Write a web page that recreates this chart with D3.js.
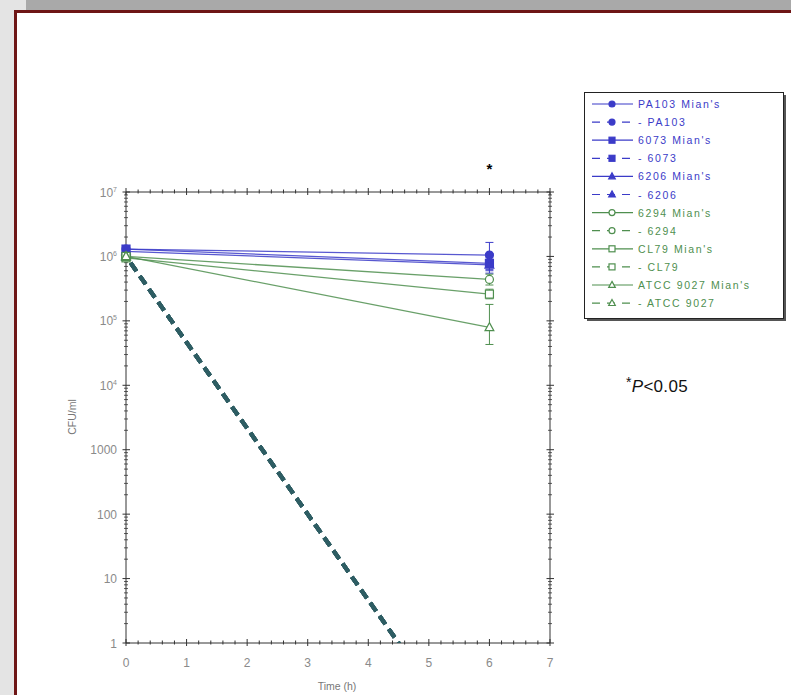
<!DOCTYPE html>
<html lang="en">
<head>
<meta charset="UTF-8">
<title>CFU/ml over time</title>
<script src="https://d3js.org/d3.v7.min.js"></script>
<style>
  body { margin: 0; background: #e4e4e4; }
  svg { display: block; }
  svg text { font-family: 'Liberation Sans', Arial, sans-serif; }
</style>
</head>
<body>
<svg width="791" height="695"></svg>
<script>
// series (legend order)
const names = ["PA103 Mian's", "PA103", "6073 Mian's", "6073", "6206 Mian's", "6206",
               "6294 Mian's", "6294", "CL79 Mian's", "CL79", "ATCC 9027 Mian's", "ATCC 9027"];
const times = [0, 6];
const cfu0 = [1.3e6, 1.0e6, 1.3e6, 1.0e6, 1.2e6, 1.0e6, 1.0e6, 1.0e6, 9.5e5, 1.0e6, 1.0e6, 1.0e6];
const cfu6 = [1.05e6, 0.01, 7.8e5, 0.01, 7.4e5, 0.01, 4.4e5, 0.01, 2.6e5, 0.01, 7.9e4, 0.01];
const hi6 = [1.65e6, null, 1.1e6, null, 9.5e5, null, 5.3e5, null, 3.1e5, null, 1.8e5, null];
const lo6 = [6.3e5, null, 5.5e5, null, 6.0e5, null, 3.6e5, null, 2.2e5, null, 4.3e4, null];
const xTicks = [0, 1, 2, 3, 4, 5, 6, 7];
const yTicks = [1, 10, 100, 1000, 1e4, 1e5, 1e6, 1e7];

const blue = "#3b3bc8", green = "#4f8f4f", dashCol = "#2e5d63";
const colorOf = i => i < 6 ? blue : green;
const shapeOf = i => ["circle", "square", "triangle"][Math.floor(i / 2) % 3];
const filledOf = i => i < 6;
const mians = i => i % 2 === 0;

const svg = d3.select("svg");

// page frame
svg.append("rect").attr("x", 26).attr("y", 0).attr("width", 765).attr("height", 12).attr("fill", "#a9a9a9");
svg.append("rect").attr("x", 15.5).attr("y", 11.5).attr("width", 800).attr("height", 700)
  .attr("fill", "#fff").attr("stroke", "#6e1616").attr("stroke-width", 3);

const x = d3.scaleLinear().domain([0, 7]).range([126, 550]);
const y = d3.scaleLog().domain([1, 1e7]).range([643, 192]);

svg.append("defs").append("clipPath").attr("id", "plot")
  .append("rect").attr("x", 120).attr("y", 150).attr("width", 440).attr("height", 493);

// axes with minor ticks
const minorX = d3.range(0, 7.001, 0.2);
const minorY = [];
for (let d = 1; d < 1e7; d *= 10) for (let k = 2; k < 10; k++) minorY.push(d * k);

const ax = svg.append("g").attr("stroke", "#333").attr("stroke-width", 1);
ax.append("line").attr("x1", 126).attr("x2", 550).attr("y1", 643).attr("y2", 643);
ax.append("line").attr("x1", 126).attr("x2", 550).attr("y1", 192).attr("y2", 192);
ax.append("line").attr("x1", 126).attr("x2", 126).attr("y1", 192).attr("y2", 643);
ax.append("line").attr("x1", 550).attr("x2", 550).attr("y1", 192).attr("y2", 643);

[643, 192].forEach(yy => {
  minorX.forEach(v => {
    const major = Math.abs(v - Math.round(v)) < 1e-6;
    ax.append("line").attr("x1", x(v)).attr("x2", x(v))
      .attr("y1", yy - (major ? 4 : 2.5)).attr("y2", yy + (major ? 3 : 1.5));
  });
});
[126, 550].forEach(xx => {
  minorY.forEach(v => ax.append("line").attr("y1", y(v)).attr("y2", y(v))
    .attr("x1", xx - 2).attr("x2", xx + 2).attr("stroke-width", 0.8));
  yTicks.forEach(v => ax.append("line").attr("y1", y(v)).attr("y2", y(v))
    .attr("x1", xx - 3.5).attr("x2", xx + 4));
});

// tick labels
const lab = svg.append("g").attr("fill", "#8a8a8a").attr("font-size", 12);
xTicks.forEach(v => lab.append("text").attr("x", x(v)).attr("y", 667)
  .attr("text-anchor", "middle").text(v));
yTicks.forEach(v => {
  const t = lab.append("text").attr("x", 117).attr("y", y(v) + 4.5).attr("text-anchor", "end");
  if (v < 1e4) t.text(String(v));
  else {
    t.append("tspan").text("10");
    t.append("tspan").attr("font-size", 7).attr("dy", -5).text(Math.round(Math.log10(v)));
  }
});
svg.append("text").attr("x", 337).attr("y", 690).attr("text-anchor", "middle")
  .attr("font-size", 10.5).attr("fill", "#777").text("Time (h)");
svg.append("text").attr("transform", "translate(76,417) rotate(-90)").attr("text-anchor", "middle")
  .attr("font-size", 10.5).attr("fill", "#777").text("CFU/ml");

// markers
function marker(g, i, cx, cy, s) {
  const c = colorOf(i), fill = filledOf(i) ? c : "#fff";
  const sh = shapeOf(i);
  if (sh === "circle") g.append("circle").attr("cx", cx).attr("cy", cy).attr("r", s)
    .attr("fill", fill).attr("stroke", c).attr("stroke-width", 1.2);
  else if (sh === "square") g.append("rect").attr("x", cx - s).attr("y", cy - s)
    .attr("width", 2 * s).attr("height", 2 * s).attr("fill", fill).attr("stroke", c).attr("stroke-width", 1.2);
  else g.append("path").attr("d", `M${cx},${cy - s * 1.2}L${cx + s * 1.1},${cy + s * 0.8}L${cx - s * 1.1},${cy + s * 0.8}Z`)
    .attr("fill", fill).attr("stroke", c).attr("stroke-width", 1.2);
}

const plot = svg.append("g").attr("clip-path", "url(#plot)");
const line = d3.line().x(d => x(d[0])).y(d => y(d[1]));

// dashed (non-Mian's) series first
names.forEach((n, i) => {
  if (mians(i)) return;
  plot.append("path").datum([[times[0], cfu0[i]], [times[1], cfu6[i]]]).attr("d", line)
    .attr("fill", "none").attr("stroke", dashCol).attr("stroke-width", 4)
    .attr("stroke-dasharray", "10,6").attr("stroke-dashoffset", -8);
});
names.forEach((n, i) => {
  if (!mians(i)) return;
  plot.append("path").datum([[times[0], cfu0[i]], [times[1], cfu6[i]]]).attr("d", line)
    .attr("fill", "none").attr("stroke", colorOf(i)).attr("stroke-width", 1.3).attr("stroke-opacity", 0.85);
});
// error bars at t=6
names.forEach((n, i) => {
  if (hi6[i] === null) return;
  const g = plot.append("g").attr("stroke", colorOf(i)).attr("stroke-width", 1);
  g.append("line").attr("x1", x(6)).attr("x2", x(6)).attr("y1", y(hi6[i])).attr("y2", y(lo6[i]));
  [hi6[i], lo6[i]].forEach(v => g.append("line").attr("x1", x(6) - 4).attr("x2", x(6) + 4)
    .attr("y1", y(v)).attr("y2", y(v)));
});
names.forEach((n, i) => {
  times.forEach((t, k) => {
    const v = k === 0 ? cfu0[i] : cfu6[i];
    if (v >= 1) marker(plot, i, x(t), y(v), 4);
  });
});

// significance star
svg.append("text").attr("x", x(6)).attr("y", 174).attr("text-anchor", "middle")
  .attr("font-size", 15).attr("font-weight", "bold").text("*");

// legend
const lg = svg.append("g");
lg.append("rect").attr("x", 587).attr("y", 95).attr("width", 199).attr("height", 226).attr("fill", "#555");
lg.append("rect").attr("x", 584.5).attr("y", 92.5).attr("width", 199).attr("height", 226)
  .attr("fill", "#fff").attr("stroke", "#222").attr("stroke-width", 1);
names.forEach((n, i) => {
  const yy = 104 + i * 18.1;
  const c = colorOf(i);
  lg.append("line").attr("x1", 592).attr("x2", 633).attr("y1", yy).attr("y2", yy)
    .attr("stroke", c).attr("stroke-width", 1.2)
    .attr("stroke-dasharray", mians(i) ? null : "8,7");
  marker(lg, i, 612, yy, 3);
  lg.append("text").attr("x", 638).attr("y", yy + 4).attr("font-size", 10.5)
    .attr("letter-spacing", 1.6).attr("fill", c).text((mians(i) ? "" : "- ") + n);
});

// p-value note
const pt = svg.append("text").attr("x", 626).attr("y", 392).attr("font-size", 17)
  .attr("fill", "#111").attr("letter-spacing", 0.3);
pt.append("tspan").attr("font-size", 14).attr("dy", -5).text("*");
pt.append("tspan").attr("dy", 5).attr("font-style", "italic").text("P");
pt.append("tspan").text("<0.05");
</script>
</body>
</html>
